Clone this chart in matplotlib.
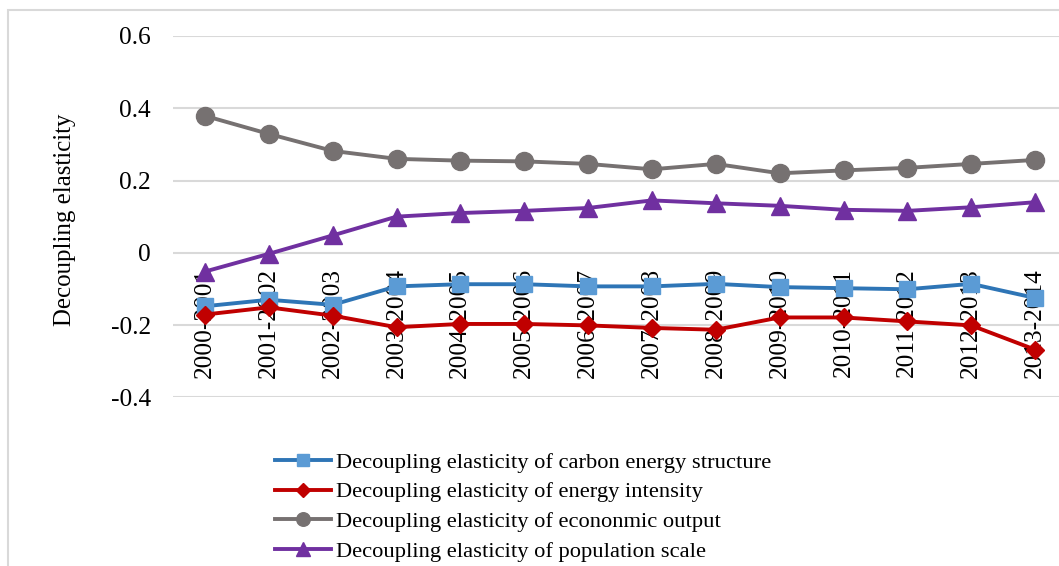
import matplotlib
matplotlib.use("Agg")
import matplotlib.pyplot as plt
from matplotlib.patches import Rectangle

periods = ["2000-2001", "2001-2002", "2002-2003", "2003-2004", "2004-2005",
           "2005-2006", "2006-2007", "2007-2008", "2008-2009", "2009-2010",
           "2010-2011", "2011-2012", "2012-2013", "2013-2014"]
carbon_structure = [-0.148, -0.130, -0.144, -0.093, -0.087, -0.087, -0.093,
                    -0.093, -0.086, -0.095, -0.098, -0.101, -0.086, -0.125]
energy_intensity = [-0.171, -0.151, -0.174, -0.206, -0.197, -0.197, -0.201,
                    -0.208, -0.213, -0.179, -0.179, -0.190, -0.201, -0.268]
economic_output = [0.379, 0.329, 0.282, 0.260, 0.255, 0.253, 0.246,
                   0.231, 0.246, 0.220, 0.228, 0.235, 0.246, 0.257]
population_scale = [-0.052, -0.003, 0.048, 0.100, 0.110, 0.116, 0.124,
                    0.145, 0.137, 0.130, 0.119, 0.116, 0.126, 0.140]
yticks = [-0.4, -0.2, 0, 0.2, 0.4, 0.6]
ytick_labels = ["-0.4", "-0.2", "0", "0.2", "0.4", "0.6"]
labels = ["Decoupling elasticity of carbon energy structure",
          "Decoupling elasticity of energy intensity",
          "Decoupling elasticity of econonmic output",
          "Decoupling elasticity of population scale"]

plt.rcParams['font.family'] = ['Liberation Serif', 'DejaVu Serif']

W, H = 1059, 566
fig = plt.figure(figsize=(W / 100, H / 100), dpi=100)

# outer chart border
fig.patches.append(Rectangle((8 / W, -0.05), 1.2, 1 - 10 / H + 0.05,
                             transform=fig.transFigure, fill=False,
                             edgecolor='#d9d9d9', linewidth=1.5))

left, right, top, bottom = 173, 1067, 36, 397.3
ax = fig.add_axes([left / W, 1 - bottom / H, (right - left) / W, (bottom - top) / H])
ax.patch.set_alpha(0)

x = list(range(len(periods)))
ax.set_xlim(-0.5, len(periods) - 0.5)
ax.set_ylim(-0.4, 0.6)

for yv in yticks:
    ax.axhline(yv, color='#d9d9d9', linewidth=1.5, zorder=0.5)

ax.plot(x, carbon_structure, color='#2E75B6', linewidth=2.8, marker='s',
        markersize=12, markerfacecolor='#5B9BD5', markeredgecolor='#5B9BD5',
        label=labels[0], zorder=2)
ax.plot(x, energy_intensity, color='#C00000', linewidth=2.8, marker='D',
        markersize=9.5, markerfacecolor='#C00000', markeredgecolor='#C00000',
        label=labels[1], zorder=2)
ax.plot(x, economic_output, color='#767171', linewidth=2.8, marker='o',
        markersize=13, markerfacecolor='#767171', markeredgecolor='#767171',
        label=labels[2], zorder=2)
ax.plot(x, population_scale, color='#7030A0', linewidth=2.8, marker='^',
        markersize=13, markerfacecolor='#7030A0', markeredgecolor='#7030A0',
        label=labels[3], zorder=2)

for s in ['top', 'right', 'left']:
    ax.spines[s].set_visible(False)
ax.spines['bottom'].set_position(('data', 0))
ax.spines['bottom'].set_visible(False)

ax.set_xticks(x)
ax.set_xticklabels(periods, rotation=90, fontsize=18.3)
ax.set_yticks(yticks)
ax.set_yticklabels(ytick_labels, fontsize=18.3)
ax.tick_params(axis='x', length=0, pad=11)
ax.tick_params(axis='y', length=0, pad=16)

fig.text(65 / W, 1 - 220 / H, "Decoupling elasticity", rotation=90,
         ha='center', va='center', fontsize=17.9)

leg = fig.legend(loc='upper left', bbox_to_anchor=(275 / W, 1 - 452 / H),
                 frameon=False, fontsize=16.2, handlelength=2.5,
                 handletextpad=0.2, labelspacing=0.4, borderpad=0,
                 borderaxespad=0, markerscale=0.75)

fig.savefig("out.png", dpi=100)
